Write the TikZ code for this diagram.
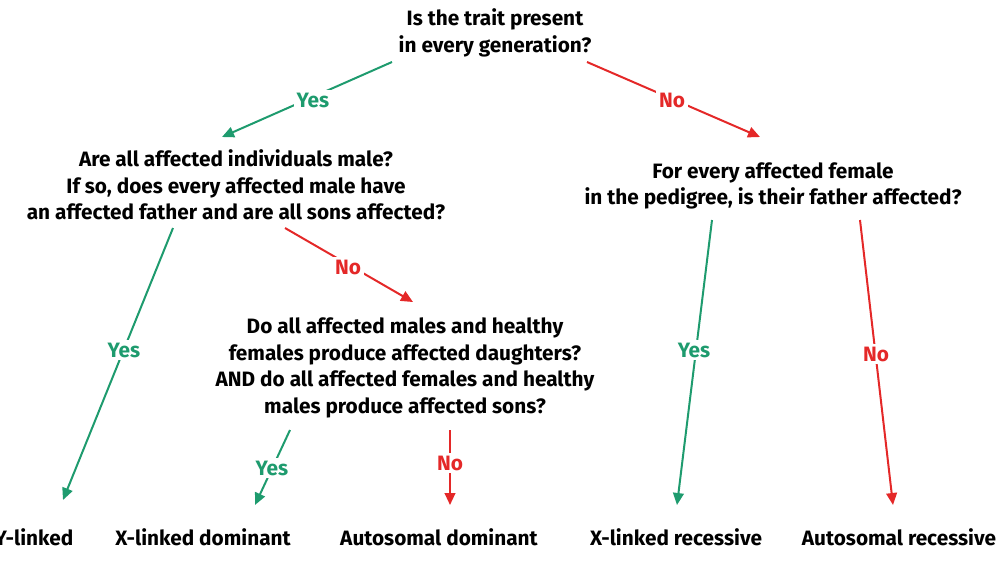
\documentclass[tikz,border=0pt]{standalone}
\usepackage{fontspec}
\setmainfont{Fira Sans}
\usetikzlibrary{arrows.meta}
\definecolor{yesgreen}{RGB}{30,155,110}
\definecolor{nored}{RGB}{228,40,40}
\tikzset{
  q/.style={align=center, font=\bfseries\fontsize{15.6}{19.8}\selectfont, text=black},
  res/.style={font=\bfseries\fontsize{15.6}{18}\selectfont, text=black},
  lbl/.style={font=\bfseries\fontsize{15.6}{18}\selectfont, fill=white, inner sep=2pt},
  yesarrow/.style={draw=yesgreen, line width=1.5pt, -{Triangle[length=9pt,width=8pt]}},
  noarrow/.style={draw=nored, line width=1.5pt, -{Triangle[length=9pt,width=8pt]}},
}
\begin{document}
\begin{tikzpicture}[x=0.75pt,y=-0.75pt]
\useasboundingbox (0,0) rectangle (996,562);
% questions
\node[q] (q1) at (495,33) {Is the trait present\\in every generation?};
\node[q] (q2) at (236,185) {Are all affected individuals male?\\If so, does every affected male have\\an affected father and are all sons affected?};
\node[q] (q3) at (773,186) {For every affected female\\in the pedigree, is their father affected?};
\node[q] (q4) at (405,368) {Do all affected males and healthy\\females produce affected daughters?\\AND do all affected females and healthy\\males produce affected sons?};
% results
\node[res] (r1) at (34,537) {Y-linked};
\node[res] (r2) at (203,537) {X-linked dominant};
\node[res] (r3) at (439,537) {Autosomal dominant};
\node[res] (r4) at (676,537) {X-linked recessive};
\node[res] (r5) at (899,537) {Autosomal recessive};
% connector endpoints
\coordinate (a1s) at (392,62);  \coordinate (a1e) at (222,137);
\coordinate (a2s) at (587,62);  \coordinate (a2e) at (760,137);
\coordinate (a3s) at (173,228); \coordinate (a3e) at (63,500);
\coordinate (a4s) at (285,228); \coordinate (a4e) at (413,302);
\coordinate (a5s) at (290,430); \coordinate (a5e) at (255,505);
\coordinate (a6s) at (450,430); \coordinate (a6e) at (450,505);
\coordinate (a7s) at (712,220); \coordinate (a7e) at (677,505);
\coordinate (a8s) at (860,220); \coordinate (a8e) at (893,505);
% connectors
\draw[yesarrow] (a1s) -- (a1e);
\draw[noarrow]  (a2s) -- (a2e);
\draw[yesarrow] (a3s) -- (a3e);
\draw[noarrow]  (a4s) -- (a4e);
\draw[yesarrow] (a5s) -- (a5e);
\draw[noarrow]  (a6s) -- (a6e);
\draw[yesarrow] (a7s) -- (a7e);
\draw[noarrow]  (a8s) -- (a8e);
% labels
\node[lbl, text=yesgreen] (l1) at (313,100) {Yes};
\node[lbl, text=nored]    (l2) at (672,100) {No};
\node[lbl, text=yesgreen] (l3) at (124,350) {Yes};
\node[lbl, text=nored]    (l4) at (348,267) {No};
\node[lbl, text=yesgreen] (l5) at (272,468) {Yes};
\node[lbl, text=nored]    (l6) at (450,463) {No};
\node[lbl, text=yesgreen] (l7) at (694,350) {Yes};
\node[lbl, text=nored]    (l8) at (876,354) {No};
\end{tikzpicture}
\end{document}
